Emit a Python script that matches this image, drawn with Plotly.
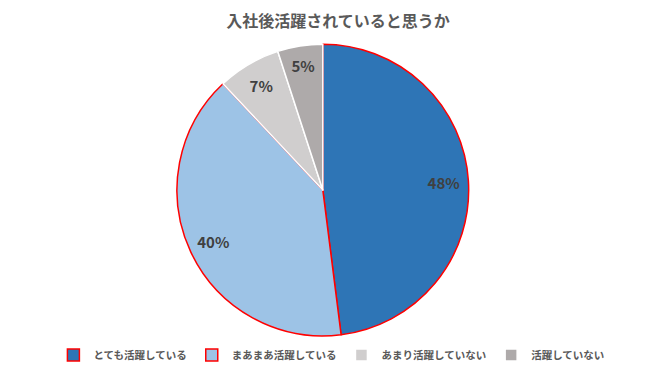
import plotly.graph_objects as go

categories = ["とても活躍している", "まあまあ活躍している", "あまり活躍していない", "活躍していない"]
values = [48, 40, 7, 5]
colors = ["#2E75B6", "#9DC3E6", "#D0CECE", "#AEAAAA"]
border_colors = ["#FF0000", "#FF0000", "#FFFFFF", "#FFFFFF"]

pie_domain = dict(x=[0.256, 0.698], y=[0.125, 0.904])

fig = go.Figure()
fig.add_trace(go.Pie(
    labels=categories,
    values=values,
    sort=False,
    direction="clockwise",
    rotation=0,
    marker=dict(colors=colors, line=dict(color=border_colors, width=1.5)),
    textinfo="none",
    domain=pie_domain,
    hoverinfo="label+percent",
))
# transparent ring overlay used only to place percentage labels near the rim
fig.add_trace(go.Pie(
    labels=categories,
    values=values,
    sort=False,
    direction="clockwise",
    rotation=0,
    hole=0.66,
    marker=dict(colors=["rgba(0,0,0,0)"] * len(values), line=dict(width=0)),
    texttemplate="%{percent:.0%}",
    textposition="inside",
    insidetextorientation="horizontal",
    textfont=dict(family="Noto Sans CJK JP", size=15, color="#404040", weight="bold"),
    domain=pie_domain,
    showlegend=False,
    hoverinfo="skip",
))

fig.update_layout(
    width=660, height=375,
    margin=dict(l=0, r=0, t=0, b=0, autoexpand=False),
    paper_bgcolor="white",
    title=dict(text="入社後活躍されていると思うか", x=0.5, xanchor="center", y=0.965, yanchor="middle",
               font=dict(family="Noto Sans CJK JP", size=16, color="#595959", weight="bold")),
    legend=dict(orientation="h", x=0.49, xanchor="center", y=0.075, yanchor="middle",
                font=dict(family="Noto Sans CJK JP", size=10.5, color="#595959", weight="bold"),
                itemwidth=30, traceorder="normal"),
    showlegend=True,
)

fig.write_html("out.html")
